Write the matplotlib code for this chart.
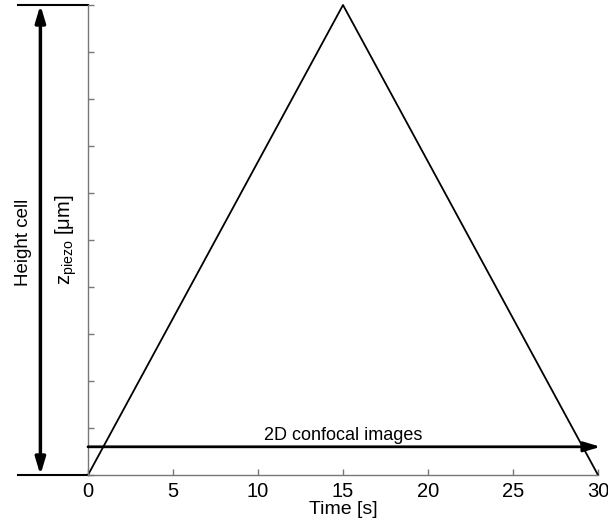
import matplotlib
matplotlib.use("Agg")
import matplotlib.pyplot as plt

time_s = [0, 15, 30]
z_piezo = [0, 10, 0]
xticks = [0, 5, 10, 15, 20, 25, 30]
yticks = list(range(0, 11))
scan_y = 0.6

plt.rcParams['font.family'] = ['Liberation Sans', 'DejaVu Sans']
plt.rcParams['mathtext.fontset'] = 'custom'
plt.rcParams['mathtext.rm'] = 'Liberation Sans'

fig = plt.figure(figsize=(6.08, 5.27), dpi=100)
ax = fig.add_axes([88/608, 52/527, 510/608, 470/527])
ax.plot(time_s, z_piezo, color='black', lw=1.3, clip_on=False)
ax.set_xlim(0, 30)
ax.set_ylim(0, 10)
ax.set_xticks(xticks)
ax.set_xticklabels([str(t) for t in xticks], fontsize=14.5)
ax.set_yticks(yticks)
ax.set_yticklabels([])
ax.tick_params(axis='both', direction='in', length=4, color='#777777', width=1)
ax.tick_params(axis='x', pad=5)
for s in ['top', 'right']:
    ax.spines[s].set_visible(False)
for s in ['left', 'bottom']:
    ax.spines[s].set_color('#777777')
    ax.spines[s].set_linewidth(1)
ax.set_xlabel('Time [s]', fontsize=14, labelpad=0)
ax.set_ylabel(r'z$_{\mathregular{piezo}}$ [μm]', fontsize=14.5, labelpad=3)

# horizontal scan arrow
ax.annotate('', xy=(30.15, scan_y), xytext=(0, scan_y),
            arrowprops=dict(arrowstyle='-|>,head_length=1.0,head_width=0.3',
                            color='black', lw=2, shrinkA=0, shrinkB=0),
            annotation_clip=False)
ax.text(15, scan_y + 0.07, '2D confocal images', ha='center', va='bottom', fontsize=13)

# height cell marker
ax.plot([-4.1, 0], [10, 10], color='black', lw=1.5, clip_on=False)
ax.plot([-4.1, 0], [0, 0], color='black', lw=1.5, clip_on=False)
ax.annotate('', xy=(-2.8, 10), xytext=(-2.8, 0),
            arrowprops=dict(arrowstyle='<|-|>,head_length=1.0,head_width=0.3',
                            color='black', lw=2.5, shrinkA=0, shrinkB=0),
            annotation_clip=False)
ax.text(-3.8, 4.95, 'Height cell', rotation=90, ha='center', va='center', fontsize=13.5)

fig.savefig('out.png', dpi=100)
